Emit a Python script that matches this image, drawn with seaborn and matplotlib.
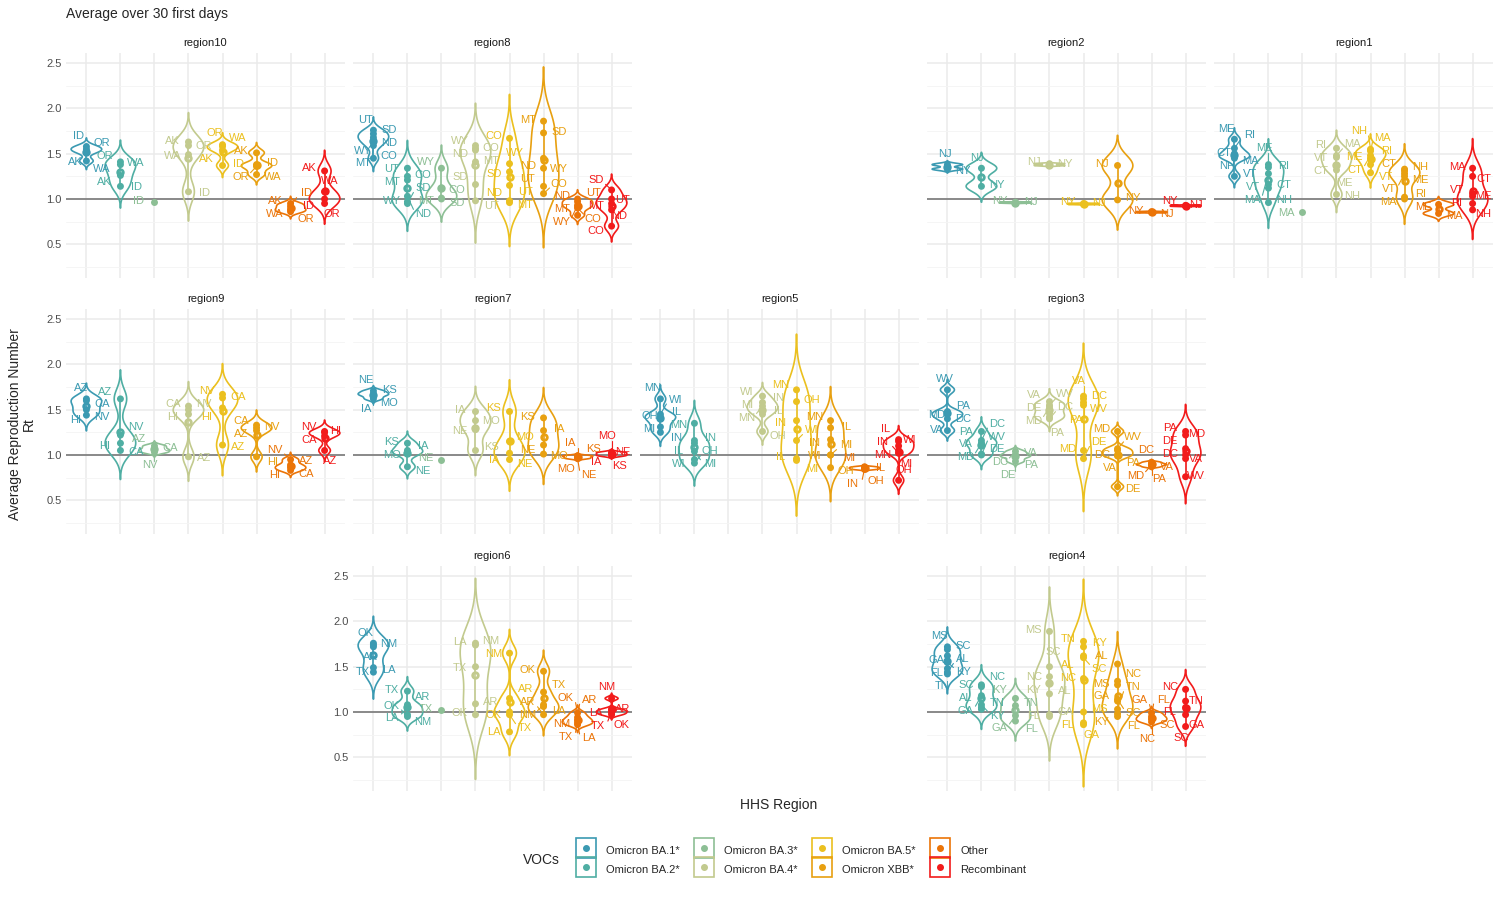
import numpy as np
import pandas as pd
import seaborn as sns
import matplotlib.pyplot as plt
from matplotlib.lines import Line2D
from matplotlib.legend_handler import HandlerTuple

N = None

voc_labels = ["Omicron BA.1*", "Omicron BA.2*", "Omicron BA.3*", "Omicron BA.4*",
              "Omicron BA.5*", "Omicron XBB*", "Other", "Recombinant"]
voc_colors = ["#3B9AB2", "#4FAEA3", "#8DBF95", "#C2CA8E",
              "#EBC01F", "#E8A010", "#EB7407", "#F21B1B"]

# rows = VOCs (BA.1, BA.2, BA.3, BA.4, BA.5, XBB, Other, Recombinant), cols = states
region10_states = ["AK", "ID", "OR", "WA"]
region10_rt = [
    [1.52, 1.58, 1.55, 1.42],
    [1.26, 1.14, 1.41, 1.38],
    [N, 0.97, N, N],
    [1.63, 1.08, 1.59, 1.49],
    [1.54, 1.37, 1.60, 1.58],
    [1.51, 1.38, 1.36, 1.27],
    [0.95, 0.92, 0.86, 0.88],
    [1.31, 1.00, 0.95, 1.08],
]

region8_states = ["CO", "MT", "ND", "SD", "UT", "WY"]
region8_rt = [
    [1.45, 1.59, 1.65, 1.72, 1.76, 1.68],
    [1.25, 1.21, 1.03, 0.95, 1.34, 0.97],
    [1.12, 1.01, N, 1.00, N, 1.34],
    [1.56, 1.41, 1.54, 1.16, 0.98, 1.59],
    [1.67, 0.96, 0.98, 1.30, 1.15, 1.39],
    [1.06, 1.86, 1.45, 1.73, 1.14, 1.34],
    [0.90, 0.82, 1.00, N, 0.97, 0.93],
    [0.70, 0.95, 0.88, 1.10, 1.00, N],
]

region2_states = ["NJ", "NY"]
region2_rt = [
    [1.38, 1.33],
    [1.34, 1.14],
    [0.955, 0.965],
    [1.39, 1.37],
    [0.94, 0.95],
    [1.37, 0.99],
    [0.85, 0.86],
    [0.92, 0.93],
]

region1_states = ["CT", "MA", "ME", "NH", "RI", "VT"]
region1_rt = [
    [1.45, 1.47, 1.66, 1.50, 1.56, 1.25],
    [1.16, 1.28, 1.38, 0.96, 1.35, 1.12],
    [N, 0.86, N, N, N, N],
    [1.32, 1.48, 1.37, 1.05, 1.56, 1.46],
    [1.48, 1.53, 1.38, 1.55, 1.45, 1.29],
    [1.33, 1.02, 1.25, 1.31, 1.00, 1.28],
    [N, 0.84, 0.94, N, N, N],
    [1.25, 1.34, 1.03, 0.88, 0.95, 1.06],
]

region9_states = ["AZ", "CA", "HI", "NV"]
region9_rt = [
    [1.62, 1.60, 1.50, 1.44],
    [1.62, 1.05, 1.13, 1.22],
    [1.10, 1.06, N, 1.03],
    [0.98, 1.54, 1.45, 1.50],
    [1.11, 1.63, 1.52, 1.67],
    [1.27, 1.33, 0.98, 1.30],
    [0.89, 0.83, 0.86, 0.95],
    [1.05, 1.21, 1.25, 1.26],
]

region7_states = ["IA", "KS", "MO", "NE"]
region7_rt = [
    [1.66, 1.68, 1.62, 1.71],
    [1.05, 1.13, 1.02, 0.87],
    [N, N, N, 0.95],
    [1.48, 1.05, 1.38, 1.28],
    [1.02, 1.48, 1.15, 0.95],
    [1.27, 1.41, 1.01, 1.11],
    [0.99, 0.99, 0.97, 0.96],
    [1.00, 0.99, 1.03, 1.02],
]

region5_states = ["IL", "IN", "MI", "MN", "OH", "WI"]
region5_rt = [
    [1.40, 1.25, 1.42, 1.62, 1.31, 1.45],
    [1.13, 1.16, 1.04, 1.35, 0.91, 0.95],
    [N, N, N, N, N, N],
    [1.50, 1.58, 1.45, 1.54, 1.26, 1.65],
    [0.96, 1.38, 0.94, 1.72, 1.59, 1.16],
    [1.30, 1.17, 1.00, 1.38, 0.86, 1.00],
    [0.86, 0.85, 0.87, N, 0.84, N],
    [1.17, 1.02, 1.05, 1.10, 0.72, 1.15],
]

region3_states = ["DC", "DE", "MD", "PA", "VA", "WV"]
region3_rt = [
    [1.40, N, 1.45, 1.48, 1.27, 1.72],
    [1.16, 1.12, 1.13, 1.26, 1.01, 1.00],
    [1.04, 0.98, N, 0.93, 1.00, N],
    [1.40, 1.42, 1.53, 1.46, 1.59, 1.55],
    [1.62, 0.96, 1.05, 1.58, 1.65, 1.55],
    [0.99, 0.65, 1.26, 1.00, 1.05, 1.07],
    [0.92, N, 0.89, 0.87, 0.90, N],
    [0.96, 1.07, 1.22, 1.26, 1.00, 0.76],
]

region6_states = ["AR", "LA", "NM", "OK", "TX"]
region6_rt = [
    [1.72, 1.49, 1.74, 1.76, 1.44],
    [1.08, 1.05, 0.97, 0.95, 1.23],
    [N, N, N, N, 1.02],
    [1.09, 1.76, 1.74, 0.97, 1.50],
    [1.15, 0.78, 1.65, 1.00, 0.97],
    [0.97, 1.06, 1.08, 1.45, 1.22],
    [0.94, 0.88, 0.86, 0.99, 0.91],
    [1.03, 0.97, 1.15, 0.99, 1.01],
]

region4_states = ["AL", "FL", "GA", "KY", "MS", "NC", "SC", "TN"]
region4_rt = [
    [1.44, 1.48, 1.62, 1.55, 1.72, N, 1.69, 1.42],
    [1.05, N, 1.18, 1.08, N, 1.28, 1.30, 1.03],
    [N, 0.90, 0.96, 1.15, N, N, N, 1.07],
    [1.32, 0.95, 0.97, 1.20, 1.89, 1.39, 1.50, N],
    [1.62, 0.88, 0.86, 1.72, 1.00, 1.37, 1.60, 1.78],
    [1.53, 0.95, 1.12, 0.98, 1.30, 1.34, 1.14, 1.03],
    [N, 0.95, 0.99, N, N, 0.92, 0.89, N],
    [N, 1.05, 0.97, N, N, 1.25, 0.84, 1.12],
]

regions = [
    ("region10", region10_states, region10_rt),
    ("region8", region8_states, region8_rt),
    ("region2", region2_states, region2_rt),
    ("region1", region1_states, region1_rt),
    ("region9", region9_states, region9_rt),
    ("region7", region7_states, region7_rt),
    ("region5", region5_states, region5_rt),
    ("region3", region3_states, region3_rt),
    ("region6", region6_states, region6_rt),
    ("region4", region4_states, region4_rt),
]

# geofacet-like grid (row, col)
grid_pos = {"region10": (0, 0), "region8": (0, 1), "region2": (0, 3), "region1": (0, 4),
            "region9": (1, 0), "region7": (1, 1), "region5": (1, 2), "region3": (1, 3),
            "region6": (2, 1), "region4": (2, 3)}
show_y = ["region10", "region9", "region6"]

rows = []
for region, states, rt in regions:
    for voc, vals in zip(voc_labels, rt):
        for st, v in zip(states, vals):
            if v is not None:
                rows.append((region, voc, st, v))
df = pd.DataFrame(rows, columns=["region", "voc", "state", "rt"])

palette = dict(zip(voc_labels, voc_colors))
LABEL_FS = 8


def nrd0(kde):
    # R's bw.nrd0 expressed as a scipy factor
    d = kde.dataset.ravel()
    sd = d.std(ddof=1)
    q75, q25 = np.percentile(d, [75, 25])
    lo = min(sd, (q75 - q25) / 1.34)
    if lo <= 0:
        lo = sd
    return 0.9 * lo * len(d) ** -0.2 / sd


def repel_labels(ax, sub):
    # rough ggrepel: work in pixels, push boxes off each other and off the points
    to_px = ax.transData.transform
    bb = ax.get_window_extent()
    fs_px = LABEL_FS * 100 / 72
    labs = []
    pts = []
    for i, voc in enumerate(voc_labels):
        g = sub[sub.voc == voc].sort_values("rt", ascending=False)
        for n, (st, v) in enumerate(zip(g.state, g.rt)):
            px, py = to_px((i, v))
            pts.append((px, py))
            side = -1 if n % 2 == 0 else 1
            w = 0.78 * fs_px * len(st) + 2
            h = 0.8 * fs_px
            labs.append([px + side * (w / 2 + 12), py + (6 if n % 4 < 2 else -6),
                         w, h, px, py, st, palette[voc]])
    r = 6.0
    pad = 4.0
    n_iter = 450
    for it in range(n_iter):
        spring = 0.012 * max(0.0, 1 - it / 250)
        for a in range(len(labs)):
            la = labs[a]
            for b in range(a + 1, len(labs)):
                lb = labs[b]
                dx = lb[0] - la[0]
                dy = lb[1] - la[1]
                ox = (la[2] + lb[2]) / 2 + pad - abs(dx)
                oy = (la[3] + lb[3]) / 2 + pad - abs(dy)
                if ox > 0 and oy > 0:
                    if ox < oy:
                        s = 1 if dx >= 0 else -1
                        la[0] -= s * ox / 2
                        lb[0] += s * ox / 2
                    else:
                        s = 1 if dy >= 0 else -1
                        la[1] -= s * oy / 2
                        lb[1] += s * oy / 2
            for (qx, qy) in pts:
                dx = la[0] - qx
                dy = la[1] - qy
                ox = la[2] / 2 + r - abs(dx)
                oy = la[3] / 2 + r - abs(dy)
                if ox > 0 and oy > 0:
                    if ox < oy:
                        la[0] += (1 if dx >= 0 else -1) * ox
                    else:
                        la[1] += (1 if dy >= 0 else -1) * oy
            la[0] += spring * (la[4] - la[0])
            la[1] += spring * (la[5] - la[1])
            la[0] = min(max(la[0], bb.x0 + la[2] / 2), bb.x1 - la[2] / 2)
            la[1] = min(max(la[1], bb.y0 + la[3] / 2), bb.y1 - la[3] / 2)
    inv = ax.transData.inverted()
    for x, y, w, h, px, py, st, col in labs:
        cx = min(max(px, x - w / 2), x + w / 2)
        cy = min(max(py, y - h / 2), y + h / 2)
        if np.hypot(cx - px, cy - py) > 8:
            p0 = inv.transform((px, py))
            p1 = inv.transform((cx, cy))
            ax.plot([p0[0], p1[0]], [p0[1], p1[1]], color=col, lw=0.8, zorder=2)
        tx, ty = inv.transform((x, y))
        ax.text(tx, ty, st, ha="center", va="center", fontsize=LABEL_FS, color=col, zorder=4)


sns.set_theme(style="white")
plt.rcParams["font.family"] = ["Liberation Sans", "DejaVu Sans"]

fig = plt.figure(figsize=(15, 9), dpi=100)
W, H = 1500, 900
col_left = [66, 353, 640, 927, 1214]
row_top = [53, 309, 566]
pw, ph = 279, 225

for region, states, rt in regions:
    r, c = grid_pos[region]
    ax = fig.add_axes([col_left[c] / W, 1 - (row_top[r] + ph) / H, pw / W, ph / H])
    sub = df[df.region == region]
    counts = sub.groupby("voc")["rt"].transform("size")
    vsub = sub[counts >= 2]

    ax.axhline(1, color="#6E6E6E", lw=1.1, zorder=1)
    sns.violinplot(data=vsub, x="voc", y="rt", hue="voc", order=voc_labels,
                   hue_order=voc_labels, palette=palette, fill=False, inner=None,
                   density_norm="width", width=0.9, cut=3, bw_method=nrd0,
                   linewidth=1.2, legend=False, dodge=False, ax=ax)
    sns.stripplot(data=sub, x="voc", y="rt", hue="voc", order=voc_labels,
                  hue_order=voc_labels, palette=palette, jitter=False, size=5,
                  legend=False, dodge=False, ax=ax, zorder=3)
    sns.pointplot(data=vsub, x="voc", y="rt", hue="voc", order=voc_labels,
                  hue_order=voc_labels, palette=palette, estimator="mean",
                  errorbar=("pi", 100), linestyle="none", markers="o",
                  markersize=4, markerfacecolor="white", err_kws={"linewidth": 1.2},
                  legend=False, dodge=False, ax=ax)

    ax.set_xlim(-0.6, 7.6)
    ax.set_ylim(0.127, 2.613)
    ax.set_xticks(range(8))
    ax.set_xticklabels([])
    ax.set_yticks([0.5, 1.0, 1.5, 2.0, 2.5])
    ax.set_yticks([0.25, 0.75, 1.25, 1.75, 2.25], minor=True)
    if region in show_y:
        ax.set_yticklabels(["0.5", "1.0", "1.5", "2.0", "2.5"], fontsize=8, color="#4D4D4D")
    else:
        ax.set_yticklabels([])
    ax.tick_params(which="both", length=0, pad=3)
    ax.grid(which="major", color="#EBEBEB", lw=1.1)
    ax.grid(which="minor", axis="y", color="#F4F4F4", lw=0.6)
    ax.set_axisbelow(True)
    for s in ax.spines.values():
        s.set_visible(False)
    ax.set_xlabel("")
    ax.set_ylabel("")
    ax.set_title(region, fontsize=8, color="#1A1A1A", pad=5)

    repel_labels(ax, sub)

fig.text(66 / W, 1 - 14 / H, "Average over 30 first days", fontsize=10, va="center", ha="left")
fig.text(779 / W, 1 - 805 / H, "HHS Region", fontsize=10, ha="center", va="center")
fig.text(22 / W, 1 - 424 / H, "Average Reproduction Number\nRt", fontsize=10,
         rotation=90, ha="center", va="center", linespacing=1.0)
fig.text(523 / W, 1 - 860 / H, "VOCs", fontsize=10, ha="left", va="center")

handles = [(Line2D([], [], marker="s", ms=15, mfc="none", mec=c, mew=1.2, ls=""),
            Line2D([], [], marker="o", ms=4, color=c, ls="")) for c in voc_colors]
fig.legend(handles, voc_labels, handler_map={tuple: HandlerTuple(ndivide=1)},
           loc="center left", bbox_to_anchor=(566 / W, 1 - 860 / H), ncol=4,
           frameon=False, fontsize=8, handlelength=1.8, handleheight=1.9,
           handletextpad=0.9, columnspacing=1.3, labelspacing=0.25)

fig.savefig("out.png", dpi=100)
